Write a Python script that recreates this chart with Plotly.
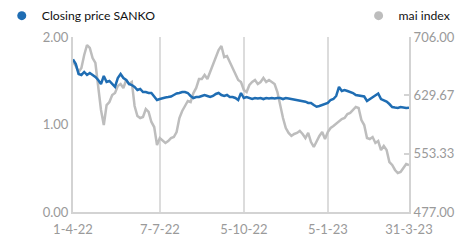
import plotly.graph_objects as go

dates = [
    "2022-04-01","2022-04-05","2022-04-07","2022-04-11","2022-04-12","2022-04-18","2022-04-20","2022-04-22",
    "2022-04-26","2022-04-28","2022-05-03","2022-05-06","2022-05-10","2022-05-12","2022-05-17","2022-05-19",
    "2022-05-23","2022-05-25","2022-05-27","2022-05-31","2022-06-02","2022-06-06","2022-06-08","2022-06-10",
    "2022-06-14","2022-06-16","2022-06-21","2022-06-23","2022-06-27","2022-07-01","2022-07-05","2022-07-07",
    "2022-07-11","2022-07-13","2022-07-18","2022-07-20","2022-07-22","2022-07-26","2022-07-29","2022-08-02",
    "2022-08-04","2022-08-08","2022-08-10","2022-08-15","2022-08-17","2022-08-19","2022-08-23","2022-08-25",
    "2022-08-29","2022-08-31","2022-09-02","2022-09-06","2022-09-08","2022-09-12","2022-09-14","2022-09-16",
    "2022-09-20","2022-09-22","2022-09-26","2022-09-28","2022-09-30","2022-10-05",
    "2022-10-07","2022-10-11","2022-10-14","2022-10-18","2022-10-20","2022-10-25","2022-10-27","2022-10-31",
    "2022-11-02","2022-11-04","2022-11-08","2022-11-10","2022-11-14","2022-11-16","2022-11-18","2022-11-22",
    "2022-11-24","2022-11-28","2022-11-30","2022-12-02","2022-12-07","2022-12-09","2022-12-14","2022-12-16",
    "2022-12-20","2022-12-22","2022-12-26","2022-12-28","2022-12-30","2023-01-05",
    "2023-01-09","2023-01-11","2023-01-13","2023-01-17","2023-01-19","2023-01-23","2023-01-25","2023-01-27",
    "2023-01-31","2023-02-02","2023-02-06","2023-02-08","2023-02-10","2023-02-14","2023-02-16","2023-02-20",
    "2023-02-22","2023-02-24","2023-02-28","2023-03-02","2023-03-06","2023-03-08","2023-03-10","2023-03-14",
    "2023-03-16","2023-03-21","2023-03-24","2023-03-28","2023-03-31",
]

sanko_close = [
    1.745,1.691,1.577,1.566,1.600,1.566,1.589,1.566,1.543,1.509,1.463,1.554,1.486,1.497,1.463,1.429,
    1.531,1.577,1.531,1.509,1.463,1.451,1.429,1.394,1.406,1.371,1.371,1.360,1.360,1.314,1.280,1.291,
    1.303,1.309,1.314,1.320,1.337,1.354,1.360,1.371,1.371,1.360,1.326,1.303,1.314,1.314,1.326,1.337,
    1.326,1.314,1.326,1.349,1.360,1.337,1.326,1.337,1.314,1.314,1.303,1.280,1.360,1.303,
    1.314,1.299,1.291,1.303,1.297,1.303,1.291,1.303,1.297,1.303,1.297,1.303,1.303,1.291,1.303,1.297,
    1.291,1.286,1.280,1.280,1.269,1.261,1.246,1.246,1.223,1.203,1.211,1.223,1.234,1.246,
    1.280,1.291,1.326,1.429,1.383,1.394,1.383,1.371,1.360,1.337,1.331,1.326,1.320,1.269,1.291,1.314,
    1.337,1.354,1.291,1.280,1.261,1.234,1.200,1.194,1.189,1.200,1.194,1.189,1.191,
]

mai_index = [
    673.7,668.1,660.2,665.4,682.4,695.5,691.6,678.5,672.0,636.6,610.5,590.8,616.9,621.0,630.1,632.7,
    641.9,644.5,639.3,649.7,644.5,647.1,615.7,602.6,600.0,601.3,611.8,607.9,594.8,588.2,564.7,573.8,
    569.9,567.3,569.9,573.8,575.1,581.7,600.0,609.2,615.7,622.3,620.9,632.7,639.3,651.0,651.0,656.3,
    651.0,660.2,670.7,681.1,689.0,694.2,679.8,681.1,673.3,664.1,656.3,649.7,647.1,636.6,
    634.0,643.2,647.1,649.7,644.5,647.1,652.3,647.1,649.7,647.1,644.5,634.0,615.7,600.0,586.9,580.4,
    576.5,579.1,580.4,583.0,579.1,573.8,580.4,568.6,562.1,569.9,576.5,581.7,572.5,581.7,
    586.9,589.5,592.2,596.1,598.7,600.0,605.2,606.6,610.5,614.4,613.1,597.4,590.8,573.8,572.5,575.1,
    567.3,569.9,558.1,563.4,558.1,542.4,538.5,532.0,528.0,529.3,534.6,539.8,538.5,
]

tick_dates = ["2022-04-01", "2022-07-07", "2022-10-05", "2023-01-05", "2023-03-31"]
tick_labels = ["1-4-22", "7-7-22", "5-10-22", "5-1-23", "31-3-23"]
left_ticks = [0.0, 1.0, 2.0]
right_ticks = [477.00, 553.33, 629.67, 706.00]

assert len(dates) == len(sanko_close) == len(mai_index)

BLUE = "#1f6db3"
GREY = "#bdbdbd"
AXIS = "#d3d3d3"
TICKFONT = dict(family="Lato, Open Sans, sans-serif", size=13, color="#9a9a9a")
LEGFONT = dict(family="Lato, Open Sans, sans-serif", size=12.2, color="#111")

fig = go.Figure()
# grey series on the primary (right-side) axis so it sits beneath the blue series
fig.add_trace(go.Scatter(x=dates, y=mai_index, mode="lines", name="mai index",
                         line=dict(color=GREY, width=2.5), yaxis="y", showlegend=False))
fig.add_trace(go.Scatter(x=dates, y=sanko_close, mode="lines", name="Closing price SANKO",
                         line=dict(color=BLUE, width=2.5), yaxis="y2", showlegend=False))
# legend markers
fig.add_trace(go.Scatter(x=[None], y=[None], mode="markers", name="Closing price SANKO",
                         marker=dict(color=BLUE, size=9), legend="legend", yaxis="y2"))
fig.add_trace(go.Scatter(x=[None], y=[None], mode="markers", name="mai index",
                         marker=dict(color=GREY, size=9), legend="legend2", yaxis="y"))

fig.update_layout(
    width=470, height=242,
    margin=dict(l=73, r=61, t=37, b=30, autoexpand=False),
    paper_bgcolor="white", plot_bgcolor="white",
    font=dict(family="Lato, Open Sans, sans-serif", size=13, color="#111"),
    xaxis=dict(type="category", range=[0, len(dates) - 1],
               tickvals=tick_dates, ticktext=tick_labels, tickfont=TICKFONT,
               showgrid=True, gridcolor="#dcdcdc", gridwidth=2, automargin=False,
               showline=True, linecolor=AXIS, linewidth=2, ticks="", zeroline=False,
               ticklabelstandoff=4),
    yaxis=dict(side="right", range=[477, 706], tickvals=right_ticks, tickformat=".2f",
               tickfont=TICKFONT, showgrid=False, showline=True, linecolor=AXIS, linewidth=2,
               ticks="inside", ticklen=5, tickcolor=AXIS, tickwidth=2, zeroline=False,
               automargin=False),
    yaxis2=dict(side="left", overlaying="y", range=[0, 2], tickvals=left_ticks, tickformat=".2f",
                tickfont=TICKFONT, showgrid=False, showline=True, linecolor=AXIS, linewidth=2,
                ticks="", zeroline=False, automargin=False),
    legend=dict(x=-0.212, y=1.205, xanchor="left", yanchor="top", bgcolor="rgba(0,0,0,0)",
                font=LEGFONT, itemwidth=30),
    legend2=dict(x=0.85, y=1.205, xanchor="left", yanchor="top", bgcolor="rgba(0,0,0,0)",
                 font=LEGFONT, itemwidth=30),
)

fig.write_html("out.html", config={"displayModeBar": False},
               post_script="document.body.style.margin='0px';")
